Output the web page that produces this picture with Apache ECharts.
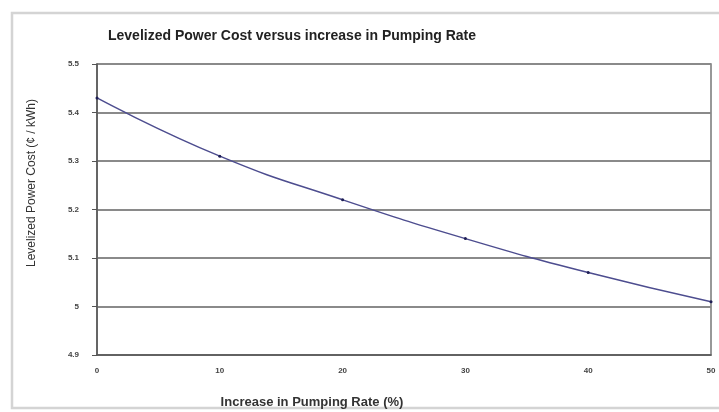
<!DOCTYPE html>
<html><head><meta charset="utf-8">
<script src="https://cdn.jsdelivr.net/npm/echarts@6/dist/echarts.min.js"></script>
<style>html,body{margin:0;padding:0;background:#fff}#c{width:719px;height:412px}</style>
</head><body><div id="c"></div>
<script>
const xValues = [0, 10, 20, 30, 40, 50];
const costValues = [5.43, 5.31, 5.22, 5.14, 5.07, 5.01];
const titleText = 'Levelized Power Cost versus increase in Pumping Rate';
const xName = 'Increase in Pumping Rate (%)';
const yName = 'Levelized Power Cost (¢ / kWh)';

const chart = echarts.init(document.getElementById('c'), null, {renderer: 'canvas'});
chart.setOption({
  animation: false,
  backgroundColor: '#fff',
  graphic: [{
    type: 'rect', shape: {x: 12, y: 13, width: 720, height: 395},
    style: {fill: 'none', stroke: '#d4d4d4', lineWidth: 2.5}, silent: true, z: -1
  }, {
    type: 'text', x: 312, y: 402,
    style: {text: xName, textAlign: 'center', textVerticalAlign: 'middle',
      font: 'bold 13px "Liberation Sans", Arial', fill: '#333'}
  }, {
    type: 'text', x: 32, y: 183, rotation: Math.PI / 2,
    style: {text: yName, textAlign: 'center', textVerticalAlign: 'middle',
      font: '12px "Liberation Sans", Arial', fill: '#333'}
  }],
  title: {
    text: titleText, left: 287, top: 24, textAlign: 'center',
    textStyle: {fontFamily: 'Liberation Sans, Arial', fontSize: 14, fontWeight: 'bold', color: '#222'}
  },
  grid: {left: 97, top: 64, width: 614, height: 291, show: true, borderColor: '#777', borderWidth: 1.5, containLabel: false},
  xAxis: {
    type: 'value', min: 0, max: 50, interval: 10,
    axisLine: {lineStyle: {color: '#555', width: 1.5}},
    axisTick: {show: false},
    splitLine: {show: false},
    axisLabel: {fontFamily: 'Liberation Sans, Arial', fontSize: 8, fontWeight: 'bold', color: '#444', margin: 12}
  },
  yAxis: {
    type: 'value', min: 4.9, max: 5.5, interval: 0.1,
    axisLine: {show: true, lineStyle: {color: '#555', width: 1.5}},
    axisTick: {show: true, length: 5, inside: false, lineStyle: {color: '#555'}},
    splitLine: {show: true, lineStyle: {color: '#8a8a8a', width: 2}},
    axisLabel: {fontFamily: 'Liberation Sans, Arial', fontSize: 8, fontWeight: 'bold', color: '#444', margin: 18,
      formatter: v => String(Math.round(v * 10) / 10)}
  },
  series: [{
    type: 'line', smooth: true,
    data: xValues.map((x, i) => [x, costValues[i]]),
    symbol: 'circle', symbolSize: 3,
    lineStyle: {color: '#4d4d8f', width: 1.5},
    itemStyle: {color: '#1e1e55'}
  }]
});
</script></body></html>
